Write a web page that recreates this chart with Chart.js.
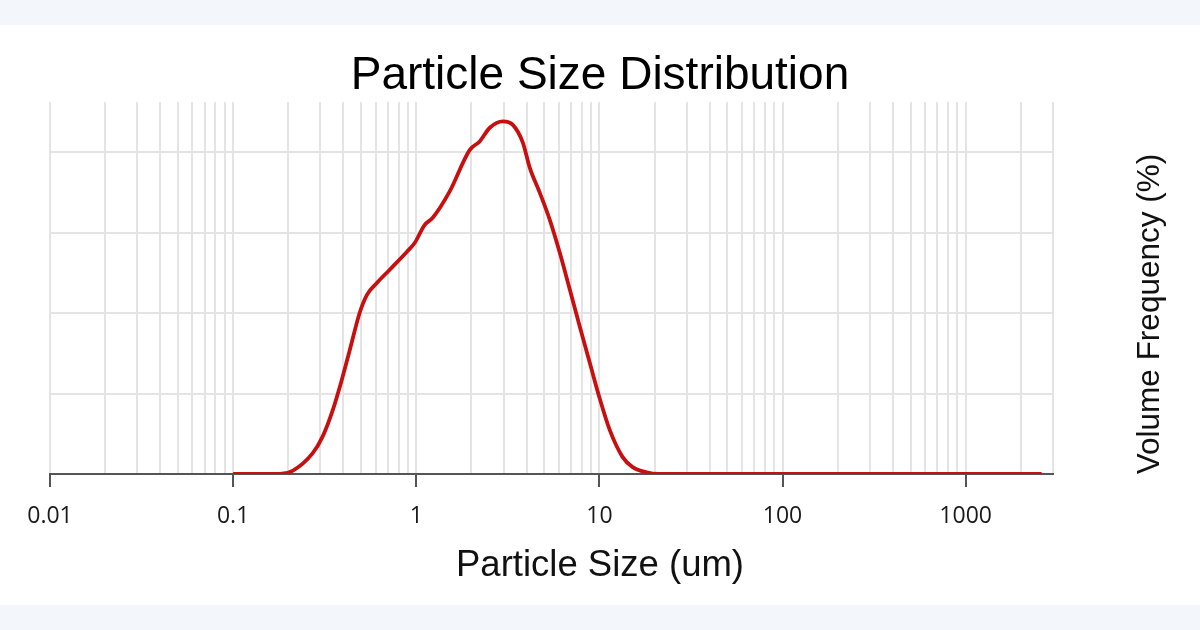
<!DOCTYPE html>
<html>
<head>
<meta charset="utf-8">
<script src="https://cdn.jsdelivr.net/npm/chart.js@4.4.1/dist/chart.umd.min.js"></script>
<style>
  html, body { margin: 0; padding: 0; }
  body { width: 1200px; height: 630px; background: #f3f6fa; overflow: hidden; }
  #wrap { position: absolute; left: 0; top: 25px; width: 1200px; height: 580px; background: #ffffff; }
</style>
</head>
<body>
<div id="wrap"><canvas id="chart" width="1200" height="580"></canvas></div>
<script>
// particle size (um) and volume frequency (%)
const sizes = [0.1, 0.18, 0.211, 0.272, 0.308, 0.35, 0.392, 0.434, 0.491, 0.537, 0.609, 0.716,
  0.887, 0.982, 1.11, 1.23, 1.52, 1.96, 2.22, 2.52, 2.97, 3.37, 3.82, 4.17, 4.73, 5.36, 6.08,
  6.9, 7.82, 8.87, 10.1, 11.4, 13.4, 15.2, 18.1, 21, 2600];
const frequency = [0, 0, 0.08, 0.52, 0.93, 1.59, 2.34, 3.09, 4.01, 4.45, 4.75, 5.08,
  5.52, 5.75, 6.19, 6.37, 7.02, 8.06, 8.27, 8.61, 8.77, 8.68, 8.24, 7.61, 6.99, 6.32, 5.5,
  4.58, 3.66, 2.76, 1.84, 1.09, 0.42, 0.17, 0.04, 0, 0];

// log axis: a gridline at every 1..9 of each decade, labels only on the decades
const decades = [0.01, 0.1, 1, 10, 100, 1000];
const decadeLabels = ["0.01", "0.1", "1", "10", "100", "1000"];
const steps = [1, 2, 3, 4, 5, 6, 7, 8, 9];
const xMin = 0.01;
const xMax = 3000;

const chartTitle = "Particle Size Distribution";
const xTitle = "Particle Size (um)";
const yTitle = "Volume Frequency (%)";

let tickValues = [];
decades.forEach(d => {
  steps.forEach(s => {
    const v = Number((d * s).toPrecision(3));
    if (v <= xMax) tickValues.push(v);
  });
});

const points = sizes.map((s, i) => ({ x: s, y: frequency[i] }));

// axis titles: x one is centred on the page, y one sits right and reads upward
const axisTitles = {
  id: "axisTitles",
  afterDraw(chart) {
    const ctx = chart.ctx;
    ctx.save();
    ctx.font = "36.5px 'Liberation Sans', Arial, sans-serif";
    ctx.fillStyle = "#111";
    ctx.textAlign = "center";
    ctx.textBaseline = "middle";
    ctx.fillText(xTitle, 600, 541);
    ctx.translate(1150, 289);
    ctx.rotate(-Math.PI / 2);
    ctx.font = "31.5px 'Liberation Sans', Arial, sans-serif";
    ctx.fillText(yTitle, 0, 0);
    ctx.restore();
  }
};

var chart = new Chart(document.getElementById("chart").getContext("2d"), {
  type: "line",
  data: {
    datasets: [
      {
        label: "Volume Frequency",
        data: points,
        borderColor: "#c80f0f",
        borderWidth: 3.8,
        pointRadius: 0,
        fill: false,
        cubicInterpolationMode: "monotone",
      },
    ],
  },
  options: {
    responsive: false,
    animation: false,
    layout: { padding: { left: 50, right: 50, top: 0, bottom: 0 } },
    plugins: {
      legend: { display: false },
      tooltip: { enabled: false },
      title: {
        display: true,
        text: chartTitle,
        color: "#000",
        font: { family: "'Liberation Sans', Arial, sans-serif", size: 46, weight: "normal", lineHeight: 1 },
        padding: { top: 28, bottom: 3 },
      },
    },
    scales: {
      x: {
        type: "logarithmic",
        min: xMin,
        max: xMax,
        afterBuildTicks: (scale) => {
          scale.ticks = tickValues.map(v => ({ value: v, major: decades.indexOf(v) >= 0 }));
        },
        afterFit: (scale) => { scale.height = 131; },
        ticks: {
          autoSkip: false,
          maxRotation: 0,
          padding: 16,
          color: "#1a1a1a",
          font: { family: "'Open Sans', sans-serif", size: 23 },
          callback: (value) => {
            const i = decades.indexOf(value);
            return i >= 0 ? decadeLabels[i] : "";
          },
        },
        grid: {
          color: "#e4e4e4",
          lineWidth: 2,
          tickLength: 13,
          tickWidth: 2,
          tickColor: (c) => (c.tick && c.tick.major ? "#555" : "rgba(0,0,0,0)"),
        },
        border: { display: true, color: "#555", width: 2 },
      },
      y: {
        position: "right",
        min: 0,
        max: 9.25,
        afterFit: (scale) => { scale.width = 97; },
        ticks: { display: false, stepSize: 2, includeBounds: false },
        grid: { color: "#e4e4e4", lineWidth: 2, drawTicks: false },
        border: { display: false },
      },
    },
  },
  plugins: [axisTitles],
});
</script>
</body>
</html>
